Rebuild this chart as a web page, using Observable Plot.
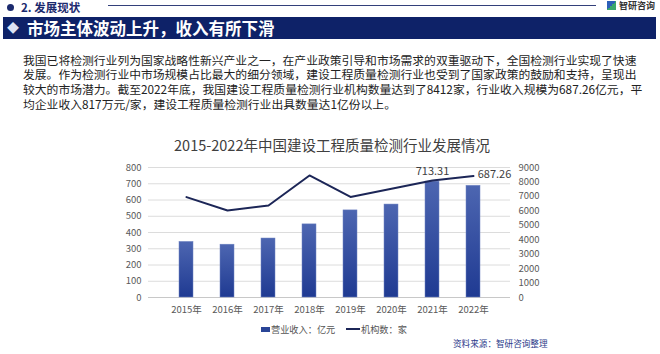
<!DOCTYPE html>
<html><head><meta charset="utf-8">
<script src="https://cdn.jsdelivr.net/npm/d3@7"></script>
<script src="https://cdn.jsdelivr.net/npm/@observablehq/plot@0.6"></script>
<style>
body{margin:0;width:660px;height:354px;position:relative;overflow:hidden;background:#fff;font-family:"Noto Sans CJK SC","Noto Sans",sans-serif;}
.abs{position:absolute;white-space:nowrap;}
.pl{position:absolute;left:23px;white-space:nowrap;font-size:11.8px;line-height:14.7px;height:14.7px;color:#222;overflow:visible}
#chart{position:absolute;left:0;top:155px;}
</style></head><body>
<script>
const years = ["2015年","2016年","2017年","2018年","2019年","2020年","2021年","2022年"];
const revenue = [342, 325, 363, 450, 536, 572, 713.31, 687.26];
const institutions = [6950, 6020, 6370, 8450, 6960, 7530, 8100, 8412];
const leftTicks = [0,100,200,300,400,500,600,700,800];
const rightTicks = [0,1000,2000,3000,4000,5000,6000,7000,8000,9000];
const rightMax = 9000, leftMax = 800;
const labeled = ["2021年","2022年"];
</script>
<div class="abs" style="left:7px;top:4px;width:7px;height:7px;border-radius:50%;background:#1b2a6e"></div>
<div class="abs" style="left:21px;top:-1px;font-size:11.5px;font-weight:bold;color:#1b2a6e;line-height:16px">2. 发展现状</div>
<div class="abs" style="left:108px;top:5px;width:488px;height:1px;background:#33407a"></div>
<div class="abs" style="left:607px;top:1px;width:9px;height:9px;background:linear-gradient(135deg,#2d5fb8 50%,#3aa76d 50%)"></div>
<div class="abs" style="left:619px;top:-1px;font-size:9px;font-weight:bold;color:#333;line-height:14px">智研咨询</div>
<div class="abs" style="left:3px;top:17px;width:653px;height:22px;background:#0e2268"></div>
<div class="abs" style="left:7px;top:17px;font-size:12px;color:#dde3f5;line-height:22px">◆</div>
<div class="abs" style="left:27px;top:16px;font-size:16.5px;font-weight:bold;color:#fff;line-height:24px">市场主体波动上升，收入有所下滑</div>
<div class="pl" style="top:52.5px">我国已将检测行业列为国家战略性新兴产业之一，在产业政策引导和市场需求的双重驱动下，全国检测行业实现了快速</div>
<div class="pl" style="top:67.2px">发展。作为检测行业中市场规模占比最大的细分领域，建设工程质量检测行业也受到了国家政策的鼓励和支持，呈现出</div>
<div class="pl" style="top:81.9px">较大的市场潜力。截至2022年底，我国建设工程质量检测行业机构数量达到了8412家，行业收入规模为687.26亿元，平</div>
<div class="pl" style="top:96.6px">均企业收入817万元/家，建设工程质量检测行业出具数量达1亿份以上。</div>
<div class="abs" style="left:0;width:660px;top:135px;text-align:center;font-size:14.5px;line-height:20px;color:#404040;padding-left:4px;box-sizing:border-box">2015-2022年中国建设工程质量检测行业发展情况</div>
<div id="chart"></div>
<div class="abs" style="left:261px;top:327px;width:9px;height:5px;background:#2a4597"></div>
<div class="abs" style="left:271px;top:322px;font-size:9.2px;line-height:14px;color:#555">营业收入：亿元</div>
<div class="abs" style="left:346px;top:328px;width:14px;height:2px;background:#1c2657"></div>
<div class="abs" style="left:361px;top:322px;font-size:9.2px;line-height:14px;color:#555">机构数：家</div>
<div class="abs" style="left:453px;top:336px;font-size:8.6px;line-height:14px;color:#2a3a8a">资料来源：智研咨询整理</div>
<script>
const data = years.map((y,i)=>({year:y, revenue:revenue[i], inst:institutions[i], instScaled: institutions[i]*leftMax/rightMax}));
const gradDefs = () => {
  const ns = "http://www.w3.org/2000/svg";
  const defs = document.createElementNS(ns,"defs");
  const g = document.createElementNS(ns,"linearGradient");
  g.setAttribute("id","barGrad"); g.setAttribute("x1","0"); g.setAttribute("y1","0"); g.setAttribute("x2","0"); g.setAttribute("y2","1");
  [["0%","#4d66b1"],["100%","#1f3a92"]].forEach(([o,c])=>{const s=document.createElementNS(ns,"stop");s.setAttribute("offset",o);s.setAttribute("stop-color",c);g.appendChild(s);});
  defs.appendChild(g);
  return defs;
};
const chart = Plot.plot({
  width: 660, height: 165,
  marginLeft: 148, marginRight: 150, marginTop: 12, marginBottom: 23,
  style: {background: "transparent", fontFamily: '"Noto Sans CJK SC","Noto Sans",sans-serif', fontSize: "9.5px", color: "#595959"},
  x: {domain: years, padding: 0.67, label: null},
  y: {domain: [0, leftMax], label: null},
  marks: [
    gradDefs,
    Plot.gridY(leftTicks, {stroke: "#dcdcdc", strokeOpacity: 1}),
    Plot.ruleY([0], {stroke: "#c8c8c8"}),
    Plot.barY(data, {x: "year", y: "revenue", fill: "url(#barGrad)", stroke: "#6f84c2", strokeWidth: 0.5}),
    Plot.line(data, {x: "year", y: "instScaled", stroke: "#1c2657", strokeWidth: 2}),
    Plot.text(data.filter(d=>d.year===labeled[0]), {x: "year", y: "revenue", text: d=>d.revenue.toFixed(2), dy: -10, fontSize: 11, fill: "#404040"}),
    Plot.text(data.filter(d=>d.year===labeled[1]), {x: "year", y: "revenue", text: d=>d.revenue.toFixed(2), dy: -11, dx: 21, fontSize: 11, fill: "#404040"}),
    Plot.axisY(leftTicks, {anchor: "left", tickSize: 0, tickPadding: 7, label: null, fontSize: 9.5, fill: "#595959"}),
    Plot.axisY(rightTicks.map(v=>v*leftMax/rightMax), {anchor: "right", tickSize: 0, tickPadding: 8, label: null, tickFormat: v=>String(Math.round(v*rightMax/leftMax)), fontSize: 9.5, fill: "#595959"}),
    Plot.axisX({tickSize: 0, tickPadding: 9, label: null, fontSize: 9.5, fill: "#595959"})
  ]
});
document.getElementById("chart").appendChild(chart);
</script>
</body></html>
